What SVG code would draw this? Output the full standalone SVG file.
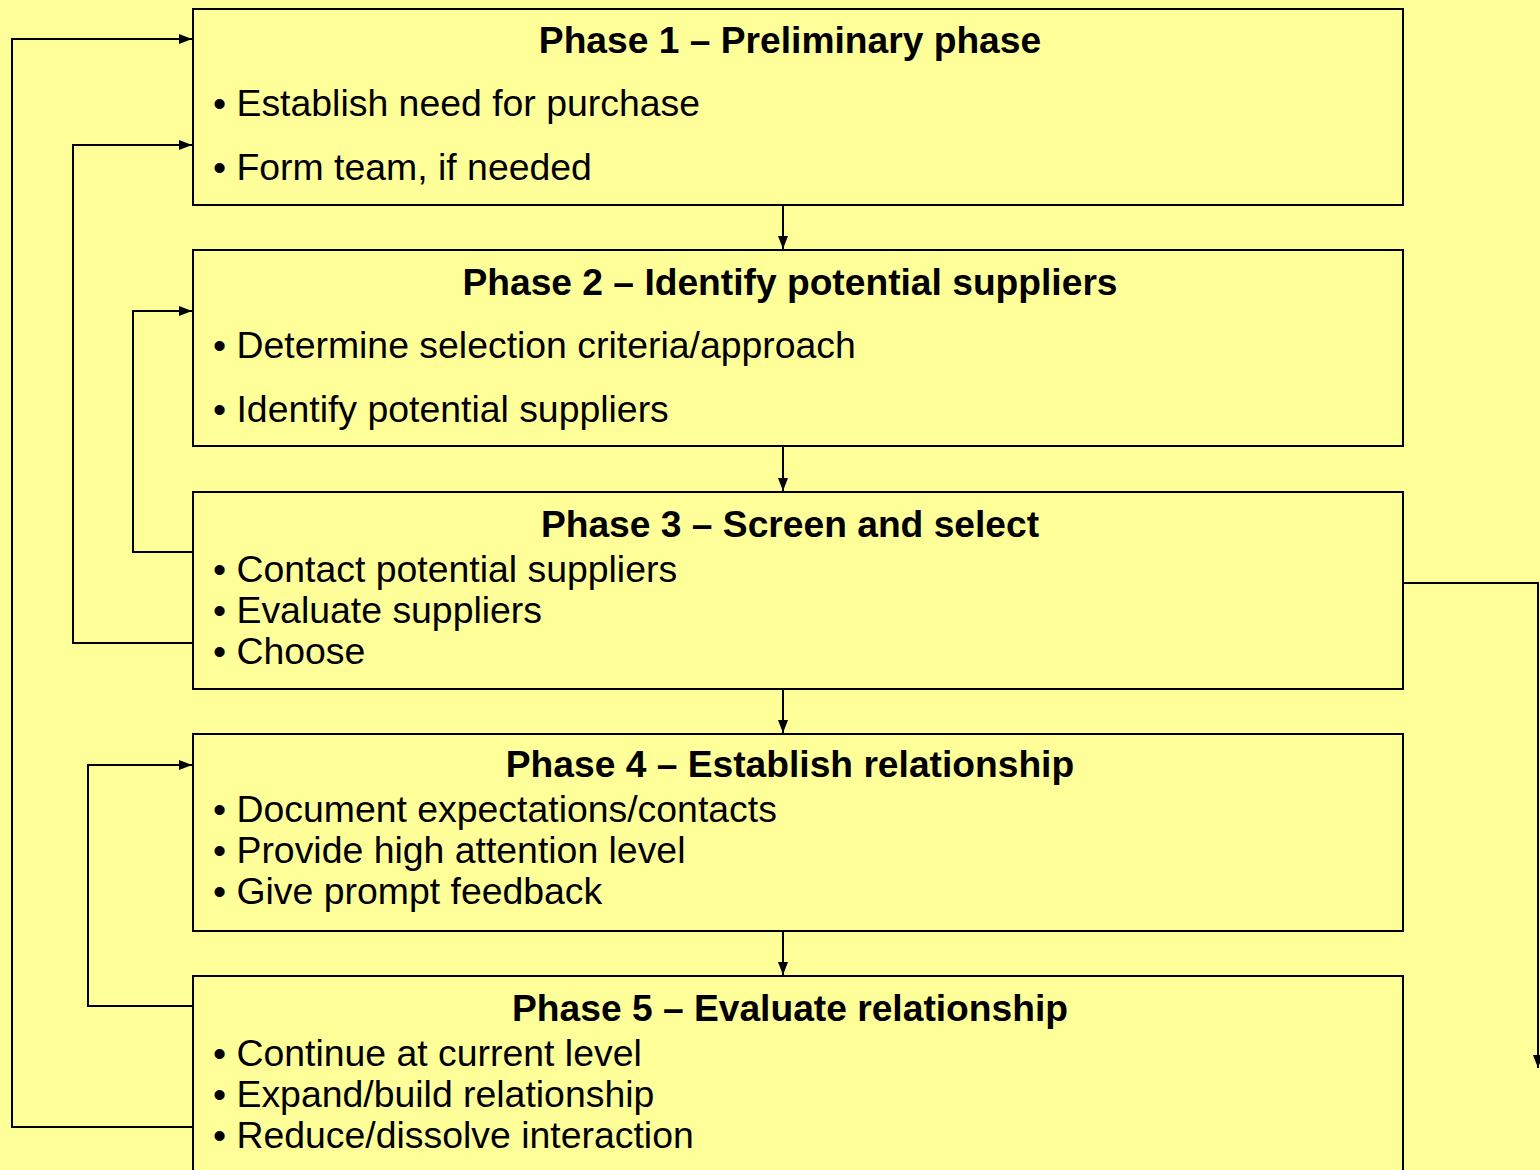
<svg xmlns="http://www.w3.org/2000/svg" width="1540" height="1170" viewBox="0 0 1540 1170">
  <defs>
    <marker id="arr" markerWidth="13" markerHeight="10" refX="13" refY="5" orient="auto" markerUnits="userSpaceOnUse">
      <path d="M0,0 L13,5 L0,10 Z" fill="#000"/>
    </marker>
    <style>
      .box { fill: #FFFF99; stroke: #000; stroke-width: 2; }
      .title { font-family: "Liberation Sans", Arial, sans-serif; font-weight: bold; font-size: 37.2px; text-anchor: middle; fill: #000; }
      .item { font-family: "Liberation Sans", Arial, sans-serif; font-size: 37.4px; fill: #000; }
      .conn { fill: none; stroke: #000; stroke-width: 2; }
    </style>
  </defs>
  <rect width="1540" height="1170" fill="#FFFF99"/>

  <g id="phase1">
    <rect class="box" x="193" y="9" width="1210" height="196"/>
    <text class="title" x="790" y="53">Phase 1 – Preliminary phase</text>
    <text class="item" x="213" y="116">• Establish need for purchase</text>
    <text class="item" x="213" y="180">• Form team, if needed</text>
  </g>
  <g id="phase2">
    <rect class="box" x="193" y="250" width="1210" height="196"/>
    <text class="title" x="790" y="295">Phase 2 – Identify potential suppliers</text>
    <text class="item" x="213" y="358">• Determine selection criteria/approach</text>
    <text class="item" x="213" y="422">• Identify potential suppliers</text>
  </g>
  <g id="phase3">
    <rect class="box" x="193" y="492" width="1210" height="197"/>
    <text class="title" x="790" y="537">Phase 3 – Screen and select</text>
    <text class="item" x="213" y="582">• Contact potential suppliers</text>
    <text class="item" x="213" y="623">• Evaluate suppliers</text>
    <text class="item" x="213" y="664">• Choose</text>
  </g>
  <g id="phase4">
    <rect class="box" x="193" y="734" width="1210" height="197"/>
    <text class="title" x="790" y="777">Phase 4 – Establish relationship</text>
    <text class="item" x="213" y="822">• Document expectations/contacts</text>
    <text class="item" x="213" y="863">• Provide high attention level</text>
    <text class="item" x="213" y="904">• Give prompt feedback</text>
  </g>
  <g id="phase5">
    <rect class="box" x="193" y="976" width="1210" height="210"/>
    <text class="title" x="790" y="1021">Phase 5 – Evaluate relationship</text>
    <text class="item" x="213" y="1066">• Continue at current level</text>
    <text class="item" x="213" y="1107">• Expand/build relationship</text>
    <text class="item" x="213" y="1148">• Reduce/dissolve interaction</text>
  </g>

  <g id="connectors">
    <!-- straight flow between phases -->
    <line class="conn" x1="783" y1="205" x2="783" y2="249" marker-end="url(#arr)"/>
    <line class="conn" x1="783" y1="446" x2="783" y2="491" marker-end="url(#arr)"/>
    <line class="conn" x1="783" y1="689" x2="783" y2="733" marker-end="url(#arr)"/>
    <line class="conn" x1="783" y1="931" x2="783" y2="975" marker-end="url(#arr)"/>
    <!-- feedback loops on the left -->
    <polyline class="conn" points="193,1127 12,1127 12,39 192,39" marker-end="url(#arr)"/>
    <polyline class="conn" points="193,643 73,643 73,145 192,145" marker-end="url(#arr)"/>
    <polyline class="conn" points="193,552 133,552 133,311 192,311" marker-end="url(#arr)"/>
    <polyline class="conn" points="193,1006 88,1006 88,765 192,765" marker-end="url(#arr)"/>
    <!-- exit on the right -->
    <polyline class="conn" points="1403,583 1538,583 1538,1068" marker-end="url(#arr)"/>
  </g>
</svg>
